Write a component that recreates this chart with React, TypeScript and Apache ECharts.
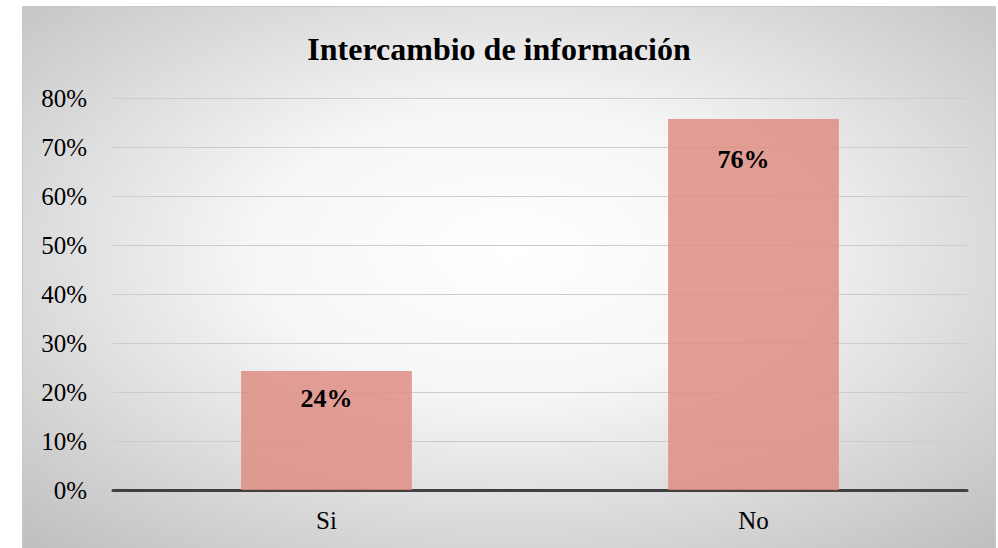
import React, { useEffect, useRef } from "react";
import * as echarts from "echarts";

const categories = ["Si", "No"];
const values = [24.3, 75.7];
const yTicks = [0, 10, 20, 30, 40, 50, 60, 70, 80];
const titleText = "Intercambio de información";

export default function App() {
  const ref = useRef<HTMLDivElement>(null);
  useEffect(() => {
    if (!ref.current) return;
    const chart = echarts.init(ref.current, null, { renderer: "svg" });
    const font = "'Liberation Serif', 'Times New Roman', serif";
    const labelDistances = [15, 27];
    const labelOffsets = [[0, 0], [-10, 0]];
    chart.setOption({
      animation: false,
      backgroundColor: "#ffffff",
      graphic: [
        {
          type: "rect",
          z: -10,
          silent: true,
          shape: { x: 22.5, y: 6.5, width: 973, height: 545 },
          style: {
            fill: new echarts.graphic.RadialGradient(0.5, 0.45, 0.75, [
              { offset: 0, color: "#ffffff" },
              { offset: 0.35, color: "#f6f6f6" },
              { offset: 1, color: "#bdbdbd" },
            ]),
            stroke: "#c8c8c8",
            lineWidth: 1,
          },
        },
      ],
      title: {
        text: titleText,
        left: "center",
        top: 28,
        textStyle: { fontFamily: font, fontSize: 32, fontWeight: "bold", color: "#000" },
      },
      grid: { left: 113, right: 31, top: 98, bottom: 58, containLabel: false },
      xAxis: {
        type: "category",
        data: categories,
        axisLine: { show: true, lineStyle: { color: "#404040", width: 3 } },
        axisTick: { show: false },
        axisLabel: { fontFamily: font, fontSize: 25, color: "#000", margin: 18 },
      },
      yAxis: {
        type: "value",
        min: 0,
        max: yTicks[yTicks.length - 1],
        interval: 10,
        axisLine: { show: false },
        axisTick: { show: false },
        axisLabel: {
          fontFamily: font,
          fontSize: 25,
          color: "#000",
          margin: 26,
          formatter: (v: number) => `${v}%`,
        },
        splitLine: { lineStyle: { color: "#cccccc", width: 1 } },
      },
      series: [
        {
          type: "bar",
          data: values.map((v, i) => ({
            value: v,
            label: { distance: labelDistances[i], offset: labelOffsets[i] },
          })),
          barWidth: "40%",
          itemStyle: { color: "rgba(222,142,132,0.85)" },
          label: {
            show: true,
            position: "insideTop",
            fontFamily: font,
            fontSize: 26,
            fontWeight: "bold",
            color: "#000",
            formatter: (p: any) => `${Math.round(p.value)}%`,
          },
        },
      ],
    });
    return () => chart.dispose();
  }, []);
  return (
    <div
      ref={ref}
      style={{ position: "fixed", left: 0, top: 0, width: 998, height: 548 }}
    />
  );
}
